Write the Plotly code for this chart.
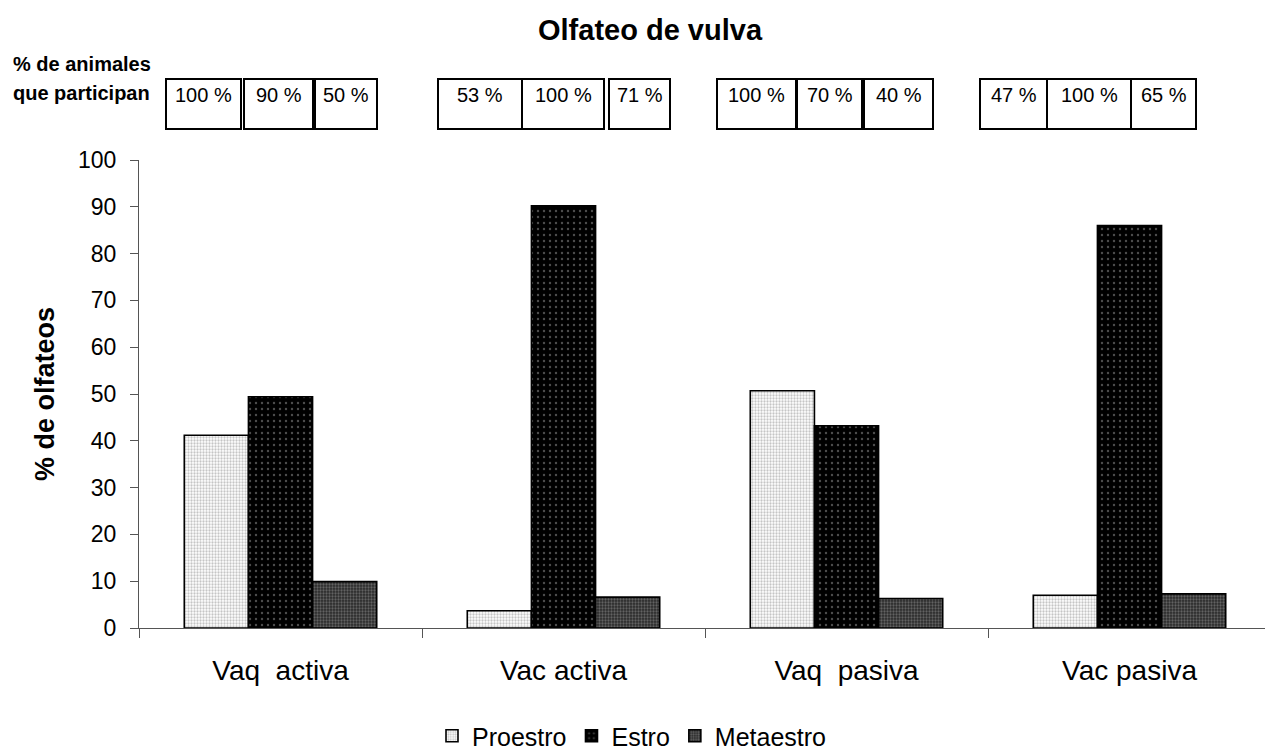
import plotly.graph_objects as go

categories = ["Vaq\u00a0 activa", "Vac activa", "Vaq\u00a0 pasiva", "Vac pasiva"]
series_names = ["Proestro", "Estro", "Metaestro"]
proestro = [41.2, 3.7, 50.7, 7.0]
estro = [49.4, 90.2, 43.2, 86.0]
metaestro = [9.9, 6.6, 6.3, 7.3]
participation = [
    ["100 %", "90 %", "50 %"],
    ["53 %", "100 %", "71 %"],
    ["100 %", "70 %", "40 %"],
    ["47 %", "100 %", "65 %"],
]
y_ticks = list(range(0, 101, 10))

# layout geometry (page pixels) for the participation boxes
box_edges_px = [
    [(166, 241), (244, 313), (315, 377)],
    [(438, 522), (522, 604), (609, 670)],
    [(717, 796), (797, 862), (864, 933)],
    [(980, 1047), (1047, 1131), (1131, 1196)],
]
W, H = 1265, 753
PL, PT, PB, PR = 139, 160, 628, 1265
pw = PR - PL
ph = PB - PT

FONT = "Liberation Sans, Arial, sans-serif"

styles = {
    "Proestro": dict(bg="#ffffff", fg="#8c8c8c", size=3, sol=0.45),
    "Estro": dict(bg="#000000", fg="#9a9a9a", size=6, sol=0.12),
    "Metaestro": dict(bg="#2a2a2a", fg="#9a9a9a", size=3, sol=0.45),
}

fig = go.Figure()
for name, vals in zip(series_names, [proestro, estro, metaestro]):
    s = styles[name]
    fig.add_trace(go.Bar(
        x=categories, y=vals, name=name,
        marker=dict(
            color=s["bg"],
            line=dict(color="black", width=1.6),
            pattern=dict(shape=".", fgcolor=s["fg"], bgcolor=s["bg"],
                         size=s["size"], solidity=s["sol"], fillmode="overlay"),
        ),
    ))

def px2x(p):
    return (p - PL) / pw
def py2y(p):
    return (PB - p) / ph

shapes = []
annotations = []
for gi, group in enumerate(box_edges_px):
    for bi, (x0, x1) in enumerate(group):
        shapes.append(dict(type="rect", xref="paper", yref="paper",
                           x0=px2x(x0), x1=px2x(x1), y0=py2y(129), y1=py2y(79),
                           line=dict(color="black", width=2), fillcolor="white", layer="above"))
        annotations.append(dict(text=participation[gi][bi], xref="paper", yref="paper",
                                x=px2x((x0 + x1) / 2), y=py2y(95), showarrow=False,
                                xanchor="center", yanchor="middle",
                                font=dict(family=FONT, size=20, color="black")))

annotations.append(dict(text="<b>% de animales</b>", xref="paper", yref="paper",
                        x=px2x(11), y=py2y(64), xanchor="left", yanchor="middle",
                        showarrow=False, font=dict(family=FONT, size=20, color="black")))
annotations.append(dict(text="<b>que participan</b>", xref="paper", yref="paper",
                        x=px2x(11), y=py2y(93), xanchor="left", yanchor="middle",
                        showarrow=False, font=dict(family=FONT, size=20, color="black")))
annotations.append(dict(text="<b>Olfateo de vulva</b>", xref="paper", yref="paper",
                        x=px2x(650), y=py2y(30), xanchor="center", yanchor="middle",
                        showarrow=False, font=dict(family=FONT, size=29, color="black")))
annotations.append(dict(text="<b>% de olfateos</b>", xref="paper", yref="paper",
                        x=px2x(45), y=py2y(394), xanchor="center", yanchor="middle", textangle=-90,
                        showarrow=False, font=dict(family=FONT, size=27, color="black")))

fig.update_layout(
    width=W, height=H,
    margin=dict(l=PL, r=W - PR, t=PT, b=H - PB, pad=0, autoexpand=False),
    plot_bgcolor="white", paper_bgcolor="white",
    barmode="group", bargap=0.32, bargroupgap=0,
    font=dict(family=FONT, size=26, color="black"),
    shapes=shapes, annotations=annotations,
    legend=dict(orientation="h", x=px2x(632), y=py2y(759), xanchor="center", yanchor="bottom",
                font=dict(family=FONT, size=25, color="black"), itemwidth=30,
                bgcolor="rgba(0,0,0,0)", traceorder="normal", tracegroupgap=0),
    xaxis=dict(
        range=[-0.5, -0.5 + pw / 283.0], showline=True, linecolor="#555555", linewidth=1,
        ticks="outside", tickson="boundaries", ticklen=9, tickcolor="#555555", tickwidth=1,
        showgrid=False, zeroline=False, ticklabelstandoff=17, automargin=False,
        tickfont=dict(family=FONT, size=28, color="black"),
    ),
    yaxis=dict(
        range=[0, 100], tickvals=y_ticks, showline=True, linecolor="#555555", linewidth=1,
        ticks="outside", ticklen=8, tickcolor="#555555", showgrid=False, zeroline=False,
        automargin=False,
        tickfont=dict(family=FONT, size=23, color="black"), ticklabelstandoff=9,
    ),
)

fig.write_html(
    "out.html",
    config={"displayModeBar": False},
    post_script="document.body.style.margin='0';document.body.style.overflow='hidden';",
)
